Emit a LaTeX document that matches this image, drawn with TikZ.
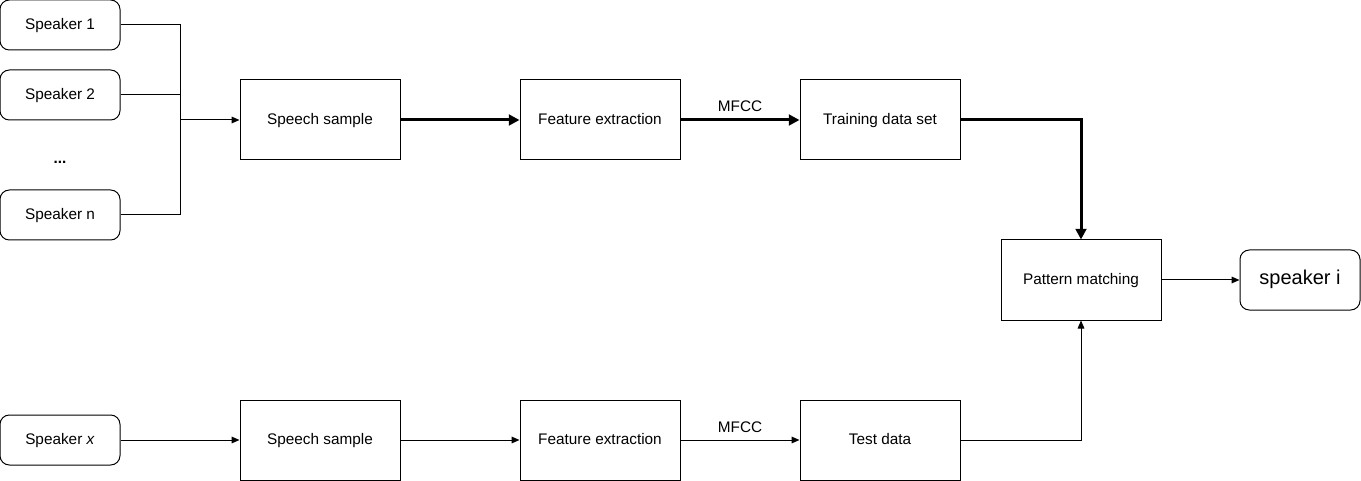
\documentclass[tikz,border=0pt]{standalone}
\usepackage{fontspec}
\setmainfont{Liberation Sans}
\usetikzlibrary{arrows.meta,positioning}
\tikzset{
  box/.style={draw, line width=0.75pt, minimum width=120pt, minimum height=60pt, inner sep=0pt, text height=1.6ex, text depth=0.4ex, font=\fontsize{11.5}{13}\selectfont},
  spk/.style={draw, line width=0.75pt, rounded corners=7pt, minimum width=90pt, minimum height=37.5pt, inner sep=0pt, text height=1.6ex, text depth=0.4ex, font=\fontsize{11.5}{13}\selectfont},
  thin/.style={line width=0.75pt, -{Triangle[length=6pt,width=5pt]}},
  thick/.style={line width=2.25pt, -{Triangle[length=8pt,width=8pt]}}
}
\begin{document}
\begin{tikzpicture}[x=0.75pt, y=-0.75pt]
\useasboundingbox (0,0) rectangle (1361,481);
% speakers
\node[spk] (s1) at (60,25) {Speaker 1};
\node[spk] (s2) at (60,95) {Speaker 2};
\node[font=\fontsize{11.5}{13}\selectfont\bfseries] (dots) at (60,162) {...};
\node[spk] (sn) at (60,215) {Speaker n};
\node[spk] (sx) at (60,440) {Speaker \textit{x}};
% training row
\node[box] (ss1) at (320,120) {Speech sample};
\node[box] (fe1) at (600,120) {Feature extraction};
\node[box] (tds) at (880,120) {Training data set};
% test row
\node[box] (ss2) at (320,440) {Speech sample};
\node[box] (fe2) at (600,440) {Feature extraction};
\node[box] (td) at (880,440) {Test data};
% result
\node[box] (pm) at (1081,280) {Pattern matching};
\node[spk, minimum height=45pt, font=\fontsize{15}{17}\selectfont] (si) at (1300,280) {speaker i};
\coordinate (bus) at (180,120);
% connectors
\draw[line width=0.75pt] (s1.east) -| (bus);
\draw[line width=0.75pt] (s2.east) -| (bus);
\draw[line width=0.75pt] (sn.east) -| (bus);
\draw[thin] (bus) -- (ss1.west);
\draw[thick] (ss1) -- (fe1);
\draw[thick] (fe1) -- node[above=2pt, font=\fontsize{11.5}{13}\selectfont] (mfcc1) {MFCC} (tds);
\draw[thick] (tds.east) -| (pm.north);
\draw[thin] (sx) -- (ss2);
\draw[thin] (ss2) -- (fe2);
\draw[thin] (fe2) -- node[above=2pt, font=\fontsize{11.5}{13}\selectfont] (mfcc2) {MFCC} (td);
\draw[thin] (td.east) -| (pm.south);
\draw[thin] (pm) -- (si);
\end{tikzpicture}
\end{document}
